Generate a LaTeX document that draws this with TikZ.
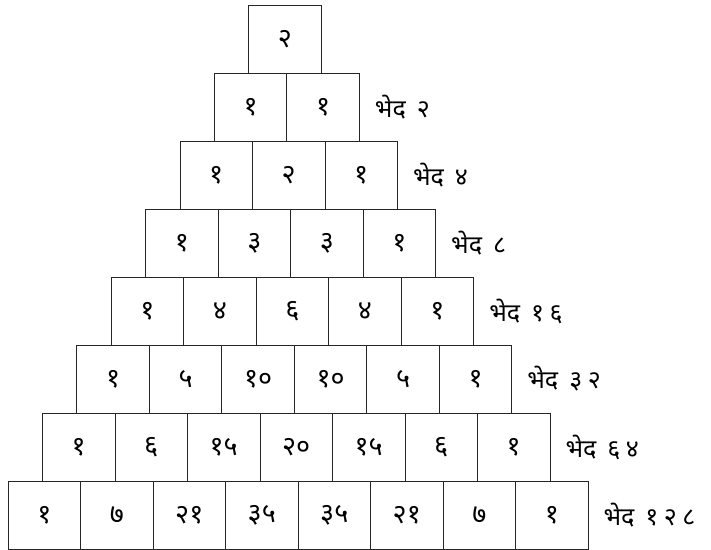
\documentclass[tikz,border=0pt]{standalone}
\usepackage{fontspec}
\newfontfamily\deva[Script=Devanagari]{Noto Sans}
\newfontfamily\devaspaced[Script=Devanagari,LetterSpace=22]{Noto Sans}
\usetikzlibrary{positioning}

\begin{document}
\begin{tikzpicture}[x=1pt, y=-1pt,
    cell/.style={rectangle, draw=black!85, line width=0.8pt, minimum width=72.5pt, minimum height=68pt, inner sep=0pt, font=\deva\fontsize{27}{30}\selectfont},
    bheda/.style={inner sep=0pt, font=\deva\fontsize{25}{28}\selectfont}]
    \useasboundingbox (0,0) rectangle (711,549);

    % rows of the prastara
    \foreach \k/\vals in {0/{२}, 1/{१,१}, 2/{१,२,१}, 3/{१,३,३,१}, 4/{१,४,६,४,१},
                          5/{१,५,१०,१०,५,१}, 6/{१,६,१५,२०,१५,६,१}, 7/{१,७,२१,३५,३५,२१,७,१}}
    {
        \foreach \v [count=\i from 0] in \vals
            \node[cell] (c-\k-\i) at ({285+1.86*\k+(\i-\k/2)*72.5}, {39+68*\k}) {\v};
    }

    % totals
    \foreach \k/\n in {1/२, 2/४, 3/८, 4/१६, 5/३२, 6/६४, 7/१२८}
        \node[bheda, right=15pt of c-\k-\k] (bheda-\k) {भेद\hspace{11pt}{\devaspaced\n}};

\end{tikzpicture}
\end{document}
